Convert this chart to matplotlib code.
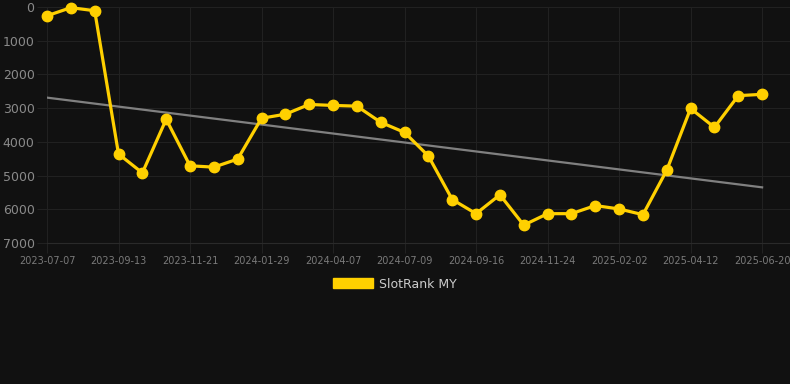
import matplotlib
matplotlib.use("Agg")
import matplotlib.pyplot as plt
import numpy as np
from matplotlib.patches import Patch

tick_dates = ["2023-07-07", "2023-09-13", "2023-11-21", "2024-01-29", "2024-04-07",
              "2024-07-09", "2024-09-16", "2024-11-24", "2025-02-02", "2025-04-12", "2025-06-20"]
rank = [260, 20, 110, 4360, 4920, 3330, 4710, 4750, 4510, 3300, 3180, 2890, 2920, 2940,
        3420, 3720, 4420, 5710, 6130, 5570, 6470, 6130, 6130, 5890, 5990, 6160, 4840,
        3010, 3570, 2630, 2590]
series_name = "SlotRank MY"

bg = "#111111"
grid_c = "#212121"
gold = "#FFD000"

fig = plt.figure(figsize=(7.9, 3.84), dpi=100, facecolor=bg)
ax = fig.add_axes([47 / 790, 1 - 243 / 384, 1 - 47 / 790, (243 - 7) / 384])
ax.set_facecolor(bg)

x = np.arange(len(rank))
coef = np.polyfit(x, rank, 1)
ax.plot(x, np.polyval(coef, x), color="#808080", lw=1.6, zorder=2)
ax.plot(x, rank, color=gold, lw=2.3, marker="o", markersize=7.5, zorder=3, clip_on=False)

ax.set_ylim(7000, 0)
ax.set_xlim(0, 31.17)
ax.set_yticks(range(0, 7001, 1000))
ax.set_xticks(x[::3])
ax.set_xticklabels(tick_dates)
ax.grid(True, color=grid_c, lw=0.8)
for s in ax.spines.values():
    s.set_visible(False)
ax.spines["bottom"].set_visible(True)
ax.spines["bottom"].set_color("#2a2a2a")
ax.spines["bottom"].set_linewidth(0.8)
ax.tick_params(axis="y", color=grid_c, labelcolor="#8a8a8a", labelsize=9, length=7, width=0.8, pad=2)
ax.tick_params(axis="x", color=grid_c, labelcolor="#7a7a7a", labelsize=7, length=7, width=0.8, pad=2)

handles = [Patch(facecolor=gold, edgecolor=gold)]
fig.legend(handles, [series_name], loc="center", bbox_to_anchor=(0.5, 1 - 284 / 384),
           frameon=False, fontsize=9, handlelength=3.2, handleheight=0.9,
           handletextpad=0.5, labelcolor="#cccccc")

fig.savefig("out.png", dpi=100, facecolor=bg)
